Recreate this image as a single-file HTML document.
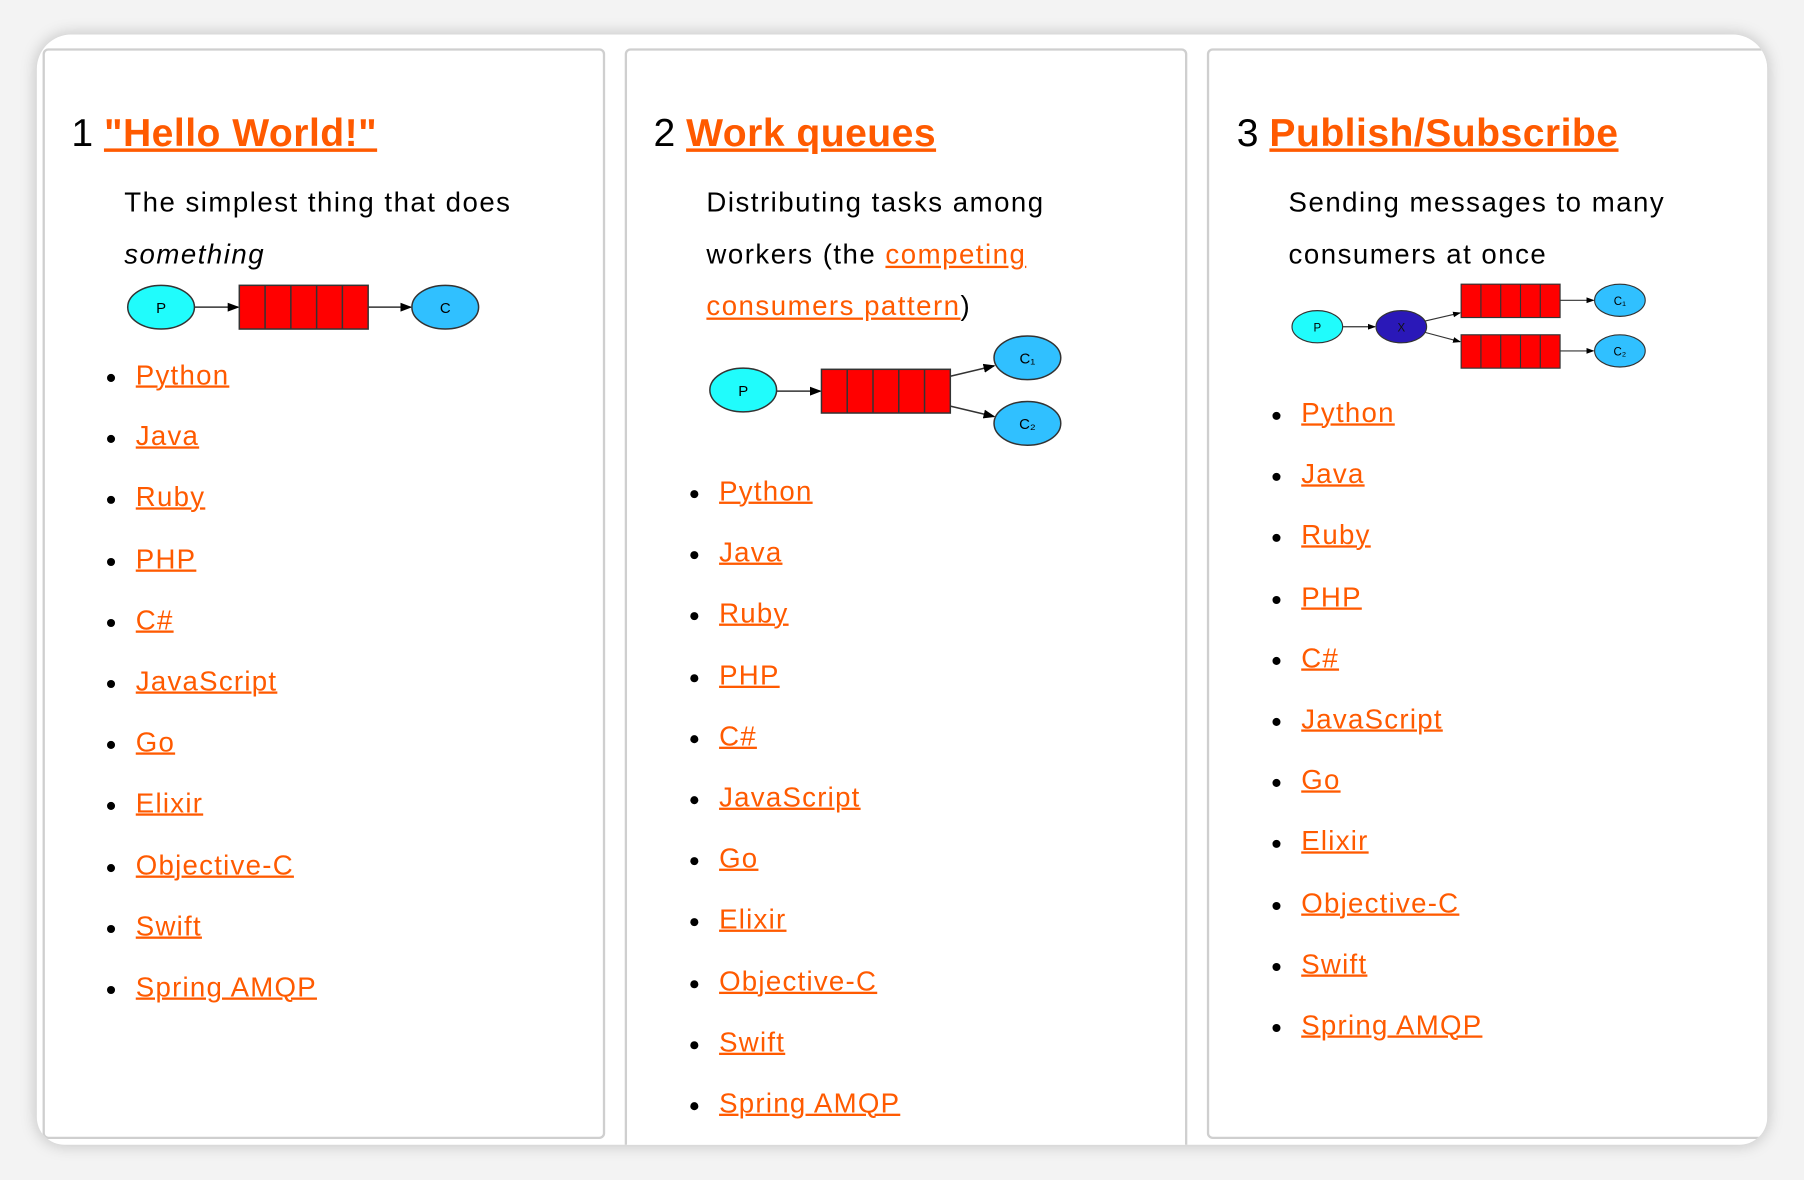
<!DOCTYPE html>
<html><head><meta charset="utf-8"><style>
html,body{margin:0;padding:0;width:1804px;height:1180px;overflow:hidden;background:#f3f3f3;}
#s{position:absolute;left:0;top:0;width:1568px;height:1026px;transform:scale(1.1505);transform-origin:0 0;font-family:"Liberation Sans",sans-serif;}
.card{position:absolute;left:32px;top:30px;width:1504px;height:965px;background:#fff;border-radius:30px 30px 24px 24px;box-shadow:0 0 14px rgba(0,0,0,.22);overflow:hidden;}
.p{position:absolute;top:12px;width:485px;border:2px solid #cfcfcf;border-radius:5px;background:#fff;}
.t{position:absolute;white-space:nowrap;}
.h{font-size:34px;color:#000;}
.h a{color:#ff5a00;font-weight:bold;text-decoration:underline;text-decoration-thickness:3px;letter-spacing:0.4px;}
.d{font-size:24px;color:#000;line-height:45px;letter-spacing:1.3px;}
a{color:#ff5a00;text-decoration:underline;}
ul{position:absolute;margin:0;padding:0;list-style:none;}
li{position:relative;height:53.2px;font-size:24px;line-height:30px;letter-spacing:1.1px;}
li:before{content:"";position:absolute;left:-25px;top:13px;width:7px;height:7px;border-radius:50%;background:#000;}
li a{text-decoration-thickness:1.5px;}
svg{position:absolute;}
</style></head><body><div id="s">
<div class="card">
<div class="p" style="left:5px;height:944px"></div>
<div class="p" style="left:511px;height:990px"></div>
<div class="p" style="left:1017px;height:944px"></div>
</div>

<!-- panel 1 -->
<div class="t h" style="left:62px;top:97px">1 <a>"Hello World!"</a></div>
<div class="t d" style="left:108px;top:154px">The simplest thing that does<br><i>something</i></div>
<svg style="left:100px;top:240px" width="330" height="55" viewBox="100 240 330 55">
<defs><marker id="m" markerWidth="8" markerHeight="8" refX="7" refY="4" orient="auto"><path d="M0,1 L8,4 L0,7z" fill="#000"/></marker></defs>
<ellipse cx="140" cy="267" rx="29" ry="19" fill="#20fcfc" stroke="#333" stroke-width="1.3"/>
<text x="140" y="272" font-size="13" text-anchor="middle" font-family="Liberation Sans">P</text>
<line x1="169" y1="267" x2="207" y2="267" stroke="#333" stroke-width="1.3" marker-end="url(#m)"/>
<rect x="208" y="248" width="112" height="38" fill="#ff0000" stroke="#333" stroke-width="1.3"/>
<path d="M230.4 248v38M252.8 248v38M275.2 248v38M297.6 248v38" stroke="#333" stroke-width="1.3"/>
<line x1="320" y1="267" x2="357" y2="267" stroke="#333" stroke-width="1.3" marker-end="url(#m)"/>
<ellipse cx="387" cy="267" rx="29" ry="19" fill="#30c0ff" stroke="#333" stroke-width="1.3"/>
<text x="387" y="272" font-size="13" text-anchor="middle" font-family="Liberation Sans">C</text>
</svg>
<ul style="left:118px;top:312px">
<li><a>Python</a></li><li><a>Java</a></li><li><a>Ruby</a></li><li><a>PHP</a></li><li><a>C#</a></li><li><a>JavaScript</a></li><li><a>Go</a></li><li><a>Elixir</a></li><li><a>Objective-C</a></li><li><a>Swift</a></li><li><a>Spring AMQP</a></li>
</ul>

<!-- panel 2 -->
<div class="t h" style="left:568px;top:97px">2 <a>Work queues</a></div>
<div class="t d" style="left:614px;top:154px">Distributing tasks among<br>workers (the <a>competing</a><br><a>consumers pattern</a>)</div>
<svg style="left:600px;top:285px" width="340" height="110" viewBox="600 285 340 110">
<defs><marker id="m2" markerWidth="8" markerHeight="8" refX="7" refY="4" orient="auto"><path d="M0,1 L8,4 L0,7z" fill="#000"/></marker></defs>
<ellipse cx="646" cy="339" rx="29" ry="19" fill="#20fcfc" stroke="#333" stroke-width="1.3"/>
<text x="646" y="344" font-size="13" text-anchor="middle" font-family="Liberation Sans">P</text>
<line x1="675" y1="340" x2="713" y2="340" stroke="#333" stroke-width="1.3" marker-end="url(#m2)"/>
<rect x="714" y="321" width="112" height="38" fill="#ff0000" stroke="#333" stroke-width="1.3"/>
<path d="M736.4 321v38M758.8 321v38M781.2 321v38M803.6 321v38" stroke="#333" stroke-width="1.3"/>
<line x1="826" y1="327" x2="864" y2="318" stroke="#333" stroke-width="1.3" marker-end="url(#m2)"/>
<line x1="826" y1="353" x2="864" y2="362" stroke="#333" stroke-width="1.3" marker-end="url(#m2)"/>
<ellipse cx="893" cy="311" rx="29" ry="19" fill="#30c0ff" stroke="#333" stroke-width="1.3"/>
<text x="893" y="316" font-size="13" text-anchor="middle" font-family="Liberation Sans">C₁</text>
<ellipse cx="893" cy="368" rx="29" ry="19" fill="#30c0ff" stroke="#333" stroke-width="1.3"/>
<text x="893" y="373" font-size="13" text-anchor="middle" font-family="Liberation Sans">C₂</text>
</svg>
<ul style="left:625px;top:413px">
<li><a>Python</a></li><li><a>Java</a></li><li><a>Ruby</a></li><li><a>PHP</a></li><li><a>C#</a></li><li><a>JavaScript</a></li><li><a>Go</a></li><li><a>Elixir</a></li><li><a>Objective-C</a></li><li><a>Swift</a></li><li><a>Spring AMQP</a></li>
</ul>

<!-- panel 3 -->
<div class="t h" style="left:1075px;top:97px">3 <a>Publish/Subscribe</a></div>
<div class="t d" style="left:1120px;top:154px">Sending messages to many<br>consumers at once</div>
<svg style="left:1115px;top:240px" width="330" height="90" viewBox="1115 240 330 90">
<defs><marker id="m3" markerWidth="7" markerHeight="7" refX="6" refY="3.5" orient="auto"><path d="M0,1 L7,3.5 L0,6z" fill="#000"/></marker></defs>
<ellipse cx="1145" cy="284" rx="22" ry="14" fill="#20fcfc" stroke="#333" stroke-width="1"/>
<text x="1145" y="288" font-size="10" text-anchor="middle" font-family="Liberation Sans">P</text>
<line x1="1167" y1="284" x2="1195" y2="284" stroke="#333" stroke-width="1" marker-end="url(#m3)"/>
<ellipse cx="1218" cy="284" rx="22" ry="14" fill="#2a18b8" stroke="#333" stroke-width="1"/>
<text x="1218" y="288" font-size="10" text-anchor="middle" font-family="Liberation Sans" fill="#111">X</text>
<line x1="1239" y1="279" x2="1269" y2="272" stroke="#333" stroke-width="1" marker-end="url(#m3)"/>
<line x1="1239" y1="289" x2="1269" y2="297" stroke="#333" stroke-width="1" marker-end="url(#m3)"/>
<rect x="1270" y="247" width="86" height="29" fill="#ff0000" stroke="#333" stroke-width="1"/>
<path d="M1287.2 247v29M1304.4 247v29M1321.6 247v29M1338.8 247v29" stroke="#333" stroke-width="1"/>
<rect x="1270" y="291" width="86" height="29" fill="#ff0000" stroke="#333" stroke-width="1"/>
<path d="M1287.2 291v29M1304.4 291v29M1321.6 291v29M1338.8 291v29" stroke="#333" stroke-width="1"/>
<line x1="1356" y1="261" x2="1385" y2="261" stroke="#333" stroke-width="1" marker-end="url(#m3)"/>
<line x1="1356" y1="305" x2="1385" y2="305" stroke="#333" stroke-width="1" marker-end="url(#m3)"/>
<ellipse cx="1408" cy="261" rx="22" ry="14" fill="#30c0ff" stroke="#333" stroke-width="1"/>
<text x="1408" y="265" font-size="10" text-anchor="middle" font-family="Liberation Sans">C₁</text>
<ellipse cx="1408" cy="305" rx="22" ry="14" fill="#30c0ff" stroke="#333" stroke-width="1"/>
<text x="1408" y="309" font-size="10" text-anchor="middle" font-family="Liberation Sans">C₂</text>
</svg>
<ul style="left:1131px;top:345px">
<li><a>Python</a></li><li><a>Java</a></li><li><a>Ruby</a></li><li><a>PHP</a></li><li><a>C#</a></li><li><a>JavaScript</a></li><li><a>Go</a></li><li><a>Elixir</a></li><li><a>Objective-C</a></li><li><a>Swift</a></li><li><a>Spring AMQP</a></li>
</ul>
</div></body></html>
